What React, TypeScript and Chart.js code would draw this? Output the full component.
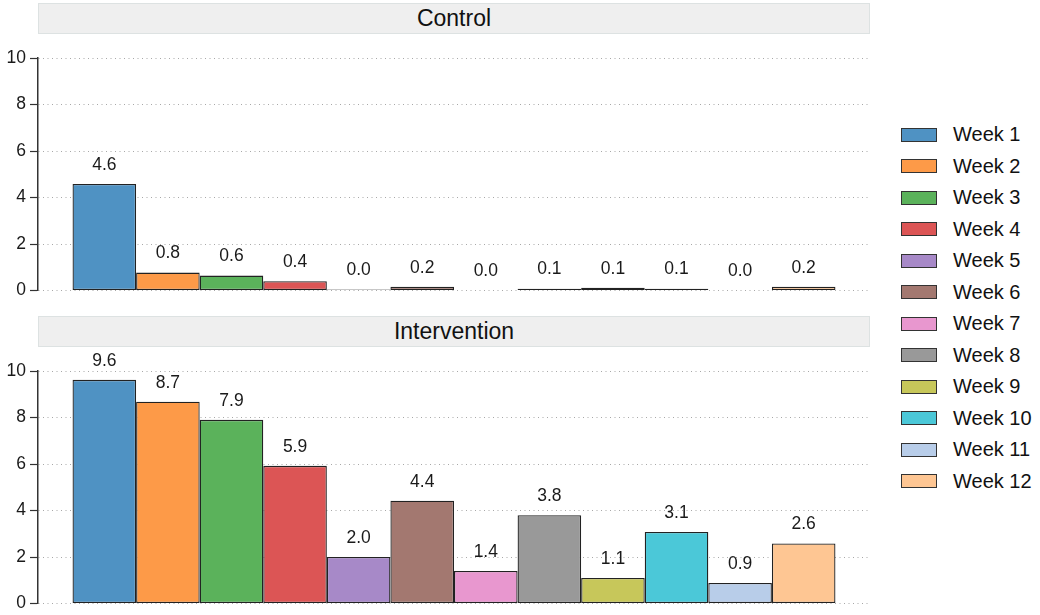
import React, { useEffect, useRef } from 'react';
import { Chart, registerables } from 'chart.js';

Chart.register(...registerables);

const weeks = ['Week 1', 'Week 2', 'Week 3', 'Week 4', 'Week 5', 'Week 6', 'Week 7', 'Week 8', 'Week 9', 'Week 10', 'Week 11', 'Week 12'];
const weekColors = ['#4f92c3', '#fd9a48', '#5bb25b', '#dc5555', '#a789c8', '#a37870', '#e897cf', '#999999', '#c7c75a', '#4bc8d8', '#b8cde9', '#fec693'];
const controlValues = [4.58, 0.77, 0.64, 0.4, 0.04, 0.16, 0.0, 0.08, 0.12, 0.08, 0.0, 0.16];
const interventionValues = [9.62, 8.68, 7.9, 5.92, 2.0, 4.42, 1.4, 3.8, 1.1, 3.08, 0.88, 2.58];
const yMin = 0;
const yMax = 10;
const yStep = 2;

const FONT = '"Liberation Sans", Arial, sans-serif';

const valueLabels = {
  id: 'valueLabels',
  afterDatasetsDraw(chart: Chart) {
    const ctx = chart.ctx;
    ctx.save();
    ctx.font = `17.5px ${FONT}`;
    ctx.fillStyle = '#1a1a1a';
    ctx.textAlign = 'center';
    ctx.textBaseline = 'middle';
    chart.data.datasets.forEach((ds, i) => {
      const meta = chart.getDatasetMeta(i);
      meta.data.forEach((el: any, j) => {
        const v = ds.data[j] as number;
        ctx.fillText(v.toFixed(1), el.x, el.y - 19);
      });
    });
    ctx.restore();
  }
};

function Panel({ title, values, top }: { title: string; values: number[]; top: number }) {
  const canvasRef = useRef<HTMLCanvasElement | null>(null);

  useEffect(() => {
    if (!canvasRef.current) return;
    const chart = new Chart(canvasRef.current, {
      type: 'bar',
      data: {
        labels: [''],
        datasets: weeks.map((w, i) => ({
          label: w,
          data: [values[i]],
          backgroundColor: weekColors[i],
          borderColor: '#222222',
          borderWidth: 1.3,
          borderSkipped: false,
          categoryPercentage: 0.917,
          barPercentage: 1
        }))
      },
      options: {
        responsive: false,
        animation: false,
        layout: { padding: { top: 19, bottom: 10, left: 0, right: 10 } },
        plugins: { legend: { display: false }, tooltip: { enabled: false } },
        scales: {
          x: { display: false },
          y: {
            min: yMin,
            max: yMax,
            afterFit: (scale: any) => { scale.width = 38; },
            ticks: {
              stepSize: yStep,
              color: '#1a1a1a',
              padding: 4,
              font: { family: FONT, size: 17.5 }
            },
            grid: {
              color: '#a8a8a8',
              lineWidth: 1,
              tickLength: 8,
              tickColor: '#333333',
              tickWidth: 1.2,
              tickBorderDash: []
            },
            border: { display: true, color: '#333333', width: 1.5, dash: [1, 3.5] }
          }
        }
      },
      plugins: [valueLabels]
    });
    return () => chart.destroy();
  }, [values]);

  return (
    <>
      <div
        style={{
          position: 'absolute',
          left: 38,
          top: top,
          width: 830,
          height: 29,
          background: '#efefef',
          border: '1px solid #dde2e2',
          fontFamily: FONT,
          fontSize: 23,
          color: '#111',
          textAlign: 'center',
          lineHeight: '29px'
        }}
      >
        {title}
      </div>
      <canvas
        ref={canvasRef}
        width={880}
        height={266}
        style={{ position: 'absolute', left: 0, top: top + 36, width: 880, height: 266 }}
      />
    </>
  );
}

export default function App() {
  return (
    <div style={{ position: 'fixed', left: 0, top: 0, width: 1040, height: 615, background: '#fff', overflow: 'hidden' }}>
      <Panel title="Control" values={controlValues} top={3} />
      <Panel title="Intervention" values={interventionValues} top={316} />
      <div style={{ position: 'absolute', left: 901, top: 127, fontFamily: FONT, fontSize: 20, color: '#111' }}>
        {weeks.map((w, i) => (
          <div key={w} style={{ display: 'flex', alignItems: 'center', height: 31.5, marginTop: i === 0 ? -8 : 0 }}>
            <span
              style={{
                display: 'inline-block',
                width: 34,
                height: 12,
                background: weekColors[i],
                border: '1.5px solid #333'
              }}
            />
            <span style={{ marginLeft: 16 }}>{w}</span>
          </div>
        ))}
      </div>
    </div>
  );
}
